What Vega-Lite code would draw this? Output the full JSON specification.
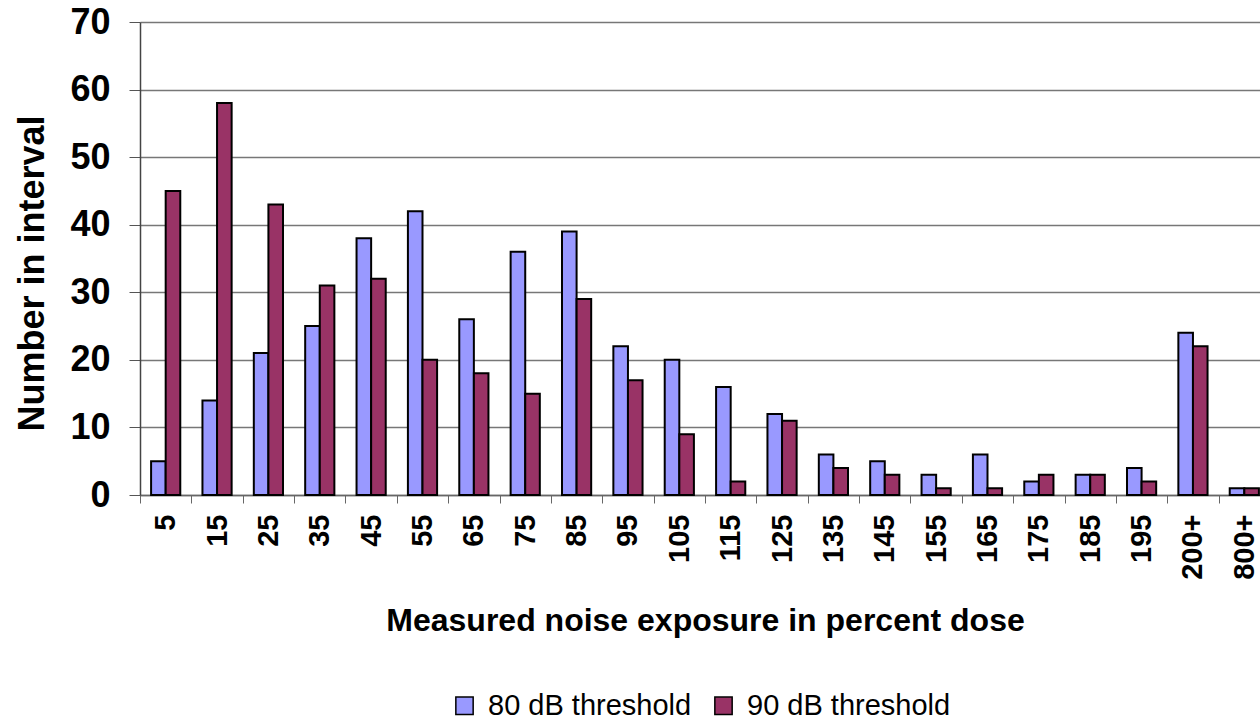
{
  "$schema": "https://vega.github.io/schema/vega-lite/v6.json",
  "width": 1120,
  "height": 473,
  "autosize": {"type": "none"},
  "padding": {"left": 140, "top": 22, "right": 0, "bottom": 228},
  "background": "white",
  "data": {
    "values": [
      {"dose": "5", "series": "80 dB threshold", "n": 5},
      {"dose": "5", "series": "90 dB threshold", "n": 45},
      {"dose": "15", "series": "80 dB threshold", "n": 14},
      {"dose": "15", "series": "90 dB threshold", "n": 58},
      {"dose": "25", "series": "80 dB threshold", "n": 21},
      {"dose": "25", "series": "90 dB threshold", "n": 43},
      {"dose": "35", "series": "80 dB threshold", "n": 25},
      {"dose": "35", "series": "90 dB threshold", "n": 31},
      {"dose": "45", "series": "80 dB threshold", "n": 38},
      {"dose": "45", "series": "90 dB threshold", "n": 32},
      {"dose": "55", "series": "80 dB threshold", "n": 42},
      {"dose": "55", "series": "90 dB threshold", "n": 20},
      {"dose": "65", "series": "80 dB threshold", "n": 26},
      {"dose": "65", "series": "90 dB threshold", "n": 18},
      {"dose": "75", "series": "80 dB threshold", "n": 36},
      {"dose": "75", "series": "90 dB threshold", "n": 15},
      {"dose": "85", "series": "80 dB threshold", "n": 39},
      {"dose": "85", "series": "90 dB threshold", "n": 29},
      {"dose": "95", "series": "80 dB threshold", "n": 22},
      {"dose": "95", "series": "90 dB threshold", "n": 17},
      {"dose": "105", "series": "80 dB threshold", "n": 20},
      {"dose": "105", "series": "90 dB threshold", "n": 9},
      {"dose": "115", "series": "80 dB threshold", "n": 16},
      {"dose": "115", "series": "90 dB threshold", "n": 2},
      {"dose": "125", "series": "80 dB threshold", "n": 12},
      {"dose": "125", "series": "90 dB threshold", "n": 11},
      {"dose": "135", "series": "80 dB threshold", "n": 6},
      {"dose": "135", "series": "90 dB threshold", "n": 4},
      {"dose": "145", "series": "80 dB threshold", "n": 5},
      {"dose": "145", "series": "90 dB threshold", "n": 3},
      {"dose": "155", "series": "80 dB threshold", "n": 3},
      {"dose": "155", "series": "90 dB threshold", "n": 1},
      {"dose": "165", "series": "80 dB threshold", "n": 6},
      {"dose": "165", "series": "90 dB threshold", "n": 1},
      {"dose": "175", "series": "80 dB threshold", "n": 2},
      {"dose": "175", "series": "90 dB threshold", "n": 3},
      {"dose": "185", "series": "80 dB threshold", "n": 3},
      {"dose": "185", "series": "90 dB threshold", "n": 3},
      {"dose": "195", "series": "80 dB threshold", "n": 4},
      {"dose": "195", "series": "90 dB threshold", "n": 2},
      {"dose": "200+", "series": "80 dB threshold", "n": 24},
      {"dose": "200+", "series": "90 dB threshold", "n": 22},
      {"dose": "800+", "series": "80 dB threshold", "n": 1},
      {"dose": "800+", "series": "90 dB threshold", "n": 1}
    ]
  },
  "mark": {"type": "bar", "stroke": "black", "strokeWidth": 2},
  "encoding": {
    "x": {
      "field": "dose",
      "type": "nominal",
      "sort": null,
      "scale": {"range": [0, 1130], "paddingInner": 0, "paddingOuter": 0},
      "axis": {
        "title": "Measured noise exposure in percent dose",
        "labelAngle": -90,
        "labelAlign": "right",
        "labelBaseline": "middle",
        "labelFont": "Liberation Sans",
        "labelFontWeight": "bold",
        "labelFontSize": 29,
        "labelColor": "black",
        "labelPadding": 11,
        "tickBand": "extent",
        "tickSize": 8,
        "tickColor": "#666666",
        "domainColor": "#666666",
        "domainWidth": 1.5,
        "titleFont": "Liberation Sans",
        "titleFontWeight": "bold",
        "titleFontSize": 32,
        "titleColor": "black",
        "titlePadding": 26,
        "grid": false
      }
    },
    "xOffset": {
      "field": "series",
      "type": "nominal",
      "scale": {"paddingOuter": 0.76, "paddingInner": 0}
    },
    "y": {
      "field": "n",
      "type": "quantitative",
      "scale": {"domain": [0, 70]},
      "axis": {
        "title": "Number in interval",
        "values": [0, 10, 20, 30, 40, 50, 60, 70],
        "labelFont": "Liberation Sans",
        "labelFontWeight": "bold",
        "labelFontSize": 36,
        "labelColor": "black",
        "labelPadding": 19,
        "tickSize": 11,
        "tickColor": "#555555",
        "domainColor": "#444444",
        "domainWidth": 1.5,
        "gridColor": "#777777",
        "gridWidth": 1.3,
        "titleFont": "Liberation Sans",
        "titleFontWeight": "bold",
        "titleFontSize": 36,
        "titleColor": "black",
        "titlePadding": 18,
        "titleY": 251
      }
    },
    "color": {
      "field": "series",
      "type": "nominal",
      "scale": {"domain": ["80 dB threshold", "90 dB threshold"], "range": ["#9999FF", "#993366"]},
      "legend": {
        "title": null,
        "orient": "bottom",
        "direction": "horizontal",
        "symbolType": "square",
        "symbolSize": 300,
        "symbolStrokeColor": "black",
        "symbolStrokeWidth": 1.5,
        "labelFont": "Liberation Sans",
        "labelFontSize": 29,
        "labelColor": "black",
        "labelLimit": 0,
        "labelOffset": 9,
        "columnPadding": 17,
        "offset": 54
      }
    }
  },
  "config": {
    "view": {"stroke": null},
    "legend": {"layout": {"bottom": {"anchor": "middle"}}}
  }
}
